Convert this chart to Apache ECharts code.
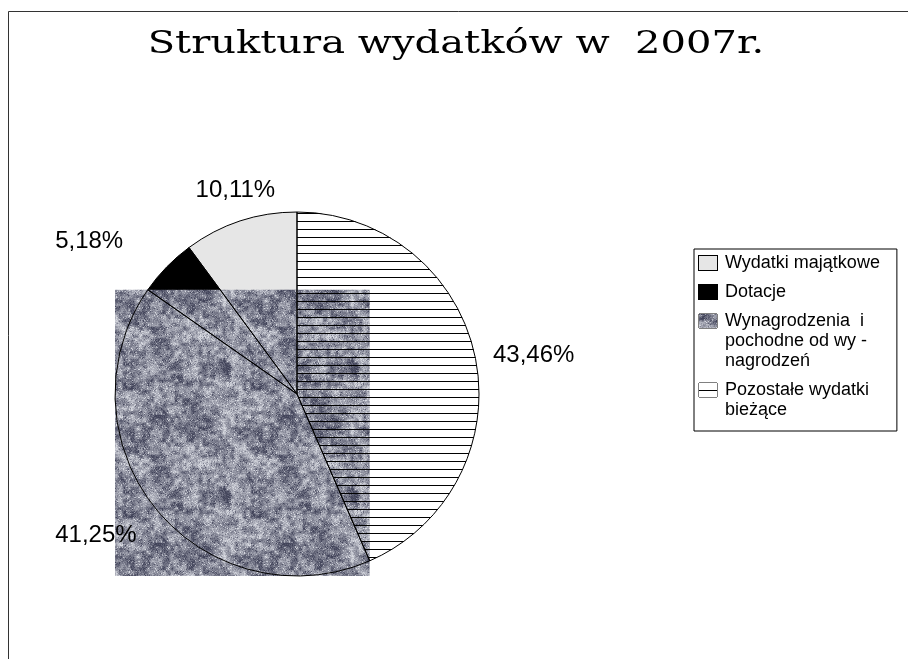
<!DOCTYPE html>
<html>
<head>
<meta charset="utf-8">
<script src="https://cdn.jsdelivr.net/npm/echarts@6/dist/echarts.min.js"></script>
<style>
    html, body { margin: 0; padding: 0; background: #fff; }
    #chart { width: 908px; height: 659px; }
</style>
</head>
<body>
<div id="chart"></div>
<script>
    // slices in drawing order (clockwise from 12 o'clock)
    const categories = ['Pozostałe wydatki\nbieżące', 'Wynagrodzenia  i\npochodne od wy -\nnagrodzeń', 'Dotacje', 'Wydatki majątkowe'];
    const shares = [43.46, 41.25, 5.18, 10.11];
    // legend order as in the original
    const legendOrder = ['Wydatki majątkowe', 'Dotacje', 'Wynagrodzenia  i\npochodne od wy -\nnagrodzeń', 'Pozostałe wydatki\nbieżące'];

    const CX = 297, CY = 394, R = 182;
    const ICON_W = 18, ICON_H = 14, ICON_GAP = 8;

    // deterministic hash for the granite texture
    function hash(x, y) {
        let h = (x * 374761393 + y * 668265263) | 0;
        h = Math.imul(h ^ (h >>> 13), 1274126177);
        h = h ^ (h >>> 16);
        return (h >>> 0) / 4294967295;
    }

    // tileable value noise of one cell size
    function octave(x, y, cell, size, seed) {
        const n = size / cell;
        const v = (i, j) => hash(((i % n) + n) % n + seed, ((j % n) + n) % n + seed * 7);
        const gx = x / cell, gy = y / cell;
        const x0 = Math.floor(gx), y0 = Math.floor(gy);
        let fx = gx - x0, fy = gy - y0;
        fx = fx * fx * (3 - 2 * fx);
        fy = fy * fy * (3 - 2 * fy);
        return (v(x0, y0) * (1 - fx) + v(x0 + 1, y0) * fx) * (1 - fy) +
            (v(x0, y0 + 1) * (1 - fx) + v(x0 + 1, y0 + 1) * fx) * fy;
    }

    function makeTexture(w, h) {
        const size = 128;
        const c = document.createElement('canvas');
        c.width = w || size;
        c.height = h || size;
        const ctx = c.getContext('2d');
        const img = ctx.createImageData(c.width, c.height);
        for (let y = 0; y < c.height; y++) {
            for (let x = 0; x < c.width; x++) {
                const f = hash(x, y);
                let l = 0.35 * octave(x, y, 16, size, 1000) + 0.4 * octave(x, y, 4, size, 3000) + 0.25 * f;
                l = (l - 0.5) * 1.5 + 0.47;
                if (f > 0.95) l += 0.25;
                if (f < 0.04) l -= 0.2;
                l = Math.max(0, Math.min(1, l));
                const k = (y * c.width + x) * 4;
                img.data[k] = 66 + l * 150;
                img.data[k + 1] = 68 + l * 150;
                img.data[k + 2] = 90 + l * 135;
                img.data[k + 3] = 255;
            }
        }
        ctx.putImageData(img, 0, 0);
        return c;
    }

    function makeStripes(bg) {
        const c = document.createElement('canvas');
        c.width = 8; c.height = 8;
        const ctx = c.getContext('2d');
        if (bg) {
            ctx.fillStyle = bg;
            ctx.fillRect(0, 0, 8, 8);
        }
        ctx.fillStyle = '#000';
        ctx.fillRect(0, 5, 8, 1);
        return c;
    }

    // small legend key with one stripe through the middle
    function makeStripeIcon() {
        const c = document.createElement('canvas');
        c.width = ICON_W; c.height = ICON_H;
        const ctx = c.getContext('2d');
        ctx.fillStyle = '#fff';
        ctx.fillRect(0, 0, ICON_W, ICON_H);
        ctx.fillStyle = '#000';
        ctx.fillRect(0, Math.floor(ICON_H / 2), ICON_W, 1);
        return c;
    }

    const texture = {image: makeTexture(), repeat: 'repeat'};
    const fills = [{image: makeStripes('#fff'), repeat: 'repeat'}, texture, '#000', '#e6e6e6'];
    const overlays = [{image: makeStripes(null), repeat: 'repeat'}, 'rgba(0,0,0,0)', 'rgba(0,0,0,0)', 'rgba(0,0,0,0)'];
    const iconFills = [{image: makeStripeIcon()}, {image: makeTexture(ICON_W, ICON_H)}, '#000', '#e6e6e6'];
    // label placement tweaks per slice [length, length2]
    const labelLines = [[9, 4], [42, -18], [37, 12], [32, -50]];

    // bounding box of the textured slice (the original draws its texture as that box)
    function sliceBox(index) {
        const total = shares.reduce((a, b) => a + b, 0);
        let start = 0;
        for (let i = 0; i < index; i++) start += shares[i];
        const a0 = start / total * 360, a1 = (start + shares[index]) / total * 360;
        const pt = a => [CX + R * Math.sin(a * Math.PI / 180), CY - R * Math.cos(a * Math.PI / 180)];
        const pts = [[CX, CY]];
        for (let a = a0; a <= a1; a += 0.5) pts.push(pt(a));
        pts.push(pt(a1));
        const xs = pts.map(p => p[0]), ys = pts.map(p => p[1]);
        const x = Math.min.apply(null, xs), y = Math.min.apply(null, ys);
        return {x: x, y: y, width: Math.max.apply(null, xs) - x, height: Math.max.apply(null, ys) - y};
    }

    // legend keys are drawn inside rich text so they sit on the first line
    const rich = {
        t: {fontFamily: 'Liberation Sans', fontSize: 18, lineHeight: 20, color: '#000'},
        g: {width: ICON_GAP},
        s: {width: ICON_W + ICON_GAP}
    };
    categories.forEach((name, i) => {
        rich['i' + i] = {
            width: ICON_W, height: ICON_H, verticalAlign: 'middle',
            backgroundColor: iconFills[i], borderColor: '#000', borderWidth: 1
        };
    });

    function legendText(name) {
        const i = categories.indexOf(name);
        return name.split('\n').map((line, k) =>
            (k === 0 ? '{i' + i + '|}{g|}' : '{s|}') + '{t|' + line + '}').join('\n');
    }

    const chart = echarts.init(document.getElementById('chart'));
    chart.setOption({
        animation: false,
        graphic: [
            {
                type: 'rect', silent: true, z: 0,
                shape: {x: 8.5, y: 11.5, width: 1000, height: 1000},
                style: {fill: 'none', stroke: '#333', lineWidth: 1}
            },
            {
                type: 'rect', silent: true, z: 3,
                shape: sliceBox(1),
                style: {fill: texture}
            },
            {
                // title, widened like the original
                type: 'text', silent: true, z: 5,
                x: 456, y: 45, scaleX: 1.25,
                style: {
                    text: 'Struktura wydatków w  2007r.',
                    fontFamily: 'DejaVu Serif', fontSize: 32,
                    fill: '#000', align: 'center', verticalAlign: 'middle'
                }
            }
        ],
        legend: {
            orient: 'vertical',
            left: 694,
            top: 249,
            padding: [4, 17, 11, 0],
            borderColor: '#000',
            borderWidth: 1,
            backgroundColor: '#fff',
            icon: 'none',
            itemWidth: 0,
            itemHeight: 14,
            itemGap: 9,
            selectedMode: false,
            textStyle: {fontFamily: 'Liberation Sans', fontSize: 18, lineHeight: 20, color: '#000', rich: rich},
            formatter: legendText,
            data: legendOrder
        },
        series: [
            {
                type: 'pie',
                z: 2,
                silent: true,
                center: [CX, CY],
                radius: R,
                startAngle: 90,
                clockwise: true,
                label: {show: false},
                labelLine: {show: false},
                itemStyle: {borderWidth: 0},
                data: categories.map((name, i) => ({name: name, value: shares[i], itemStyle: {color: fills[i]}}))
            },
            {
                type: 'pie',
                z: 4,
                silent: true,
                center: [CX, CY],
                radius: R,
                startAngle: 90,
                clockwise: true,
                avoidLabelOverlap: false,
                itemStyle: {borderColor: '#000', borderWidth: 1},
                label: {
                    show: true,
                    position: 'outside',
                    fontFamily: 'Liberation Sans',
                    fontSize: 24,
                    color: '#000',
                    formatter: p => p.value.toFixed(2).replace('.', ',') + '%'
                },
                data: categories.map((name, i) => ({
                    name: name,
                    value: shares[i],
                    itemStyle: {color: overlays[i]},
                    labelLine: {show: false, length: labelLines[i][0], length2: labelLines[i][1]}
                }))
            }
        ]
    });
</script>
</body>
</html>
